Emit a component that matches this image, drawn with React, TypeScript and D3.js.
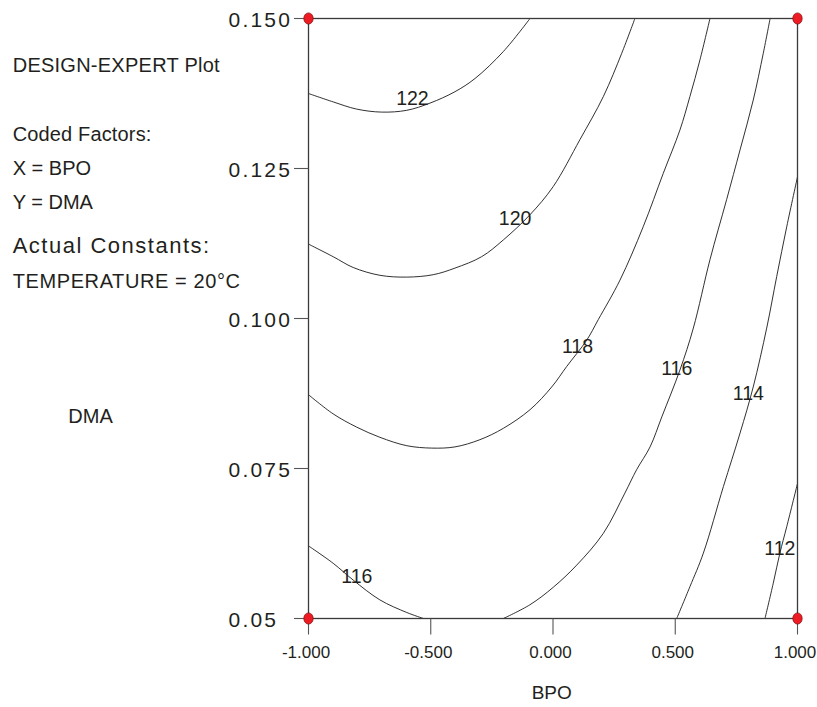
import React from "react";
import * as d3 from "d3";

// ---- data ----
const xTicks = [-1, -0.5, 0, 0.5, 1];
const xTickLabels = ["-1.000", "-0.500", "0.000", "0.500", "1.000"];
const yTicks = [0.05, 0.075, 0.1, 0.125, 0.15];
const yTickLabels = ["0.05", "0.075", "0.100", "0.125", "0.150"];

// contour lines: [BPO, DMA]
const c122: [number, number][] = [
  [-1.0, 0.1375], [-0.899, 0.1361], [-0.803, 0.1349], [-0.701, 0.1344], [-0.598, 0.1347],
  [-0.503, 0.1359], [-0.401, 0.1378], [-0.319, 0.14], [-0.203, 0.1445], [-0.094, 0.15],
];
const c120: [number, number][] = [
  [-1.0, 0.1124], [-0.899, 0.1103], [-0.817, 0.1085], [-0.708, 0.1072], [-0.598, 0.1069],
  [-0.49, 0.1073], [-0.401, 0.1084], [-0.292, 0.1103], [-0.203, 0.1131], [-0.094, 0.1173],
  [0.001, 0.122], [0.11, 0.1298], [0.206, 0.137], [0.281, 0.1442], [0.335, 0.15],
];
const c118: [number, number][] = [
  [-1.0, 0.0873], [-0.899, 0.0841], [-0.803, 0.0819], [-0.708, 0.0802], [-0.598, 0.0788],
  [-0.496, 0.0784], [-0.401, 0.0786], [-0.299, 0.0798], [-0.203, 0.0817], [-0.094, 0.0848],
  [-0.005, 0.0886], [0.056, 0.092], [0.138, 0.0964], [0.185, 0.0998], [0.274, 0.1064],
  [0.369, 0.1153], [0.451, 0.1242], [0.519, 0.1314], [0.56, 0.137], [0.601, 0.1431], [0.642, 0.15],
];
const c116a: [number, number][] = [
  [0.888, 0.15], [0.86, 0.1442], [0.819, 0.1364], [0.765, 0.1281], [0.71, 0.1198],
  [0.642, 0.1098], [0.574, 0.0984], [0.519, 0.0914], [0.445, 0.0836], [0.397, 0.0786],
  [0.342, 0.0748], [0.294, 0.0709], [0.206, 0.0642], [0.097, 0.0589], [0.001, 0.0552],
  [-0.094, 0.0523], [-0.203, 0.05],
];
const c116b: [number, number][] = [
  [-1.0, 0.0621], [-0.899, 0.0592], [-0.817, 0.0564], [-0.708, 0.0531], [-0.598, 0.051], [-0.53, 0.05],
];
const c114: [number, number][] = [
  [1.0, 0.1236], [0.956, 0.1153], [0.915, 0.107], [0.874, 0.0984], [0.819, 0.0886],
  [0.765, 0.0809], [0.697, 0.072], [0.615, 0.0609], [0.56, 0.0553], [0.506, 0.05],
];
const c112: [number, number][] = [
  [1.0, 0.0725], [0.956, 0.0653], [0.928, 0.0609], [0.901, 0.0559], [0.867, 0.05],
];
const contours = [c122, c120, c118, c116a, c116b, c114, c112];

const labelText = ["122", "120", "118", "116", "114", "112", "116"];
const labelX = [-0.575, -0.155, 0.1, 0.506, 0.799, 0.928, -0.802];
const labelY = [0.1368, 0.1168, 0.0955, 0.0918, 0.0876, 0.0617, 0.0571];

const designX = [-1, 1, -1, 1];
const designY = [0.05, 0.05, 0.15, 0.15];

const infoLines = [
  "DESIGN-EXPERT Plot",
  "Coded Factors:",
  "X = BPO",
  "Y = DMA",
  "Actual Constants:",
  "TEMPERATURE = 20°C",
];

export default function App() {
  const W = 817, H = 707;
  const left = 308.5, right = 797.5, top = 18.5, bottom = 618.5;
  const x = d3.scaleLinear().domain([-1, 1]).range([left, right]);
  const y = d3.scaleLinear().domain([0.05, 0.15]).range([bottom, top]);
  const line = d3
    .line<[number, number]>()
    .x((d) => x(d[0]))
    .y((d) => y(d[1]))
    .curve(d3.curveCatmullRom.alpha(0.5));

  const font = "'Liberation Sans', Arial, Helvetica, sans-serif";
  const txt = "#231f20";
  const infoY = [72.3, 140.7, 175, 209, 253.3, 288.3];
  const infoSize = [20, 20, 20, 20, 22, 20];
  const infoSpacing = [0.25, 0.15, 0, 0, 1.5, 0.6];

  return (
    <svg
      width={W}
      height={H}
      style={{ position: "absolute", left: 0, top: 0, background: "#fff" }}
      fontFamily={font}
    >
      <defs>
        <clipPath id="plotclip">
          <rect x={left} y={top} width={right - left} height={bottom - top} />
        </clipPath>
      </defs>
      <rect x={0} y={0} width={W} height={H} fill="#fff" />

      {/* info text */}
      {infoLines.map((t, i) => (
        <text
          key={t}
          x={12.7}
          y={infoY[i]}
          fontSize={infoSize[i]}
          letterSpacing={infoSpacing[i]}
          fill={txt}
        >
          {t}
        </text>
      ))}
      <text x={68.3} y={423.3} fontSize={20} fill={txt}>
        DMA
      </text>
      <text x={551.7} y={699} fontSize={19} textAnchor="middle" fill={txt}>
        BPO
      </text>

      {/* contours */}
      <g clipPath="url(#plotclip)">
        {contours.map((c, i) => (
          <path key={i} d={line(c) || ""} fill="none" stroke="#1a1a1a" strokeWidth={0.9} />
        ))}
      </g>
      {labelText.map((t, i) => (
        <text
          key={i}
          x={x(labelX[i])}
          y={y(labelY[i])}
          dy="0.36em"
          fontSize={19.5}
          textAnchor="middle"
          fill={txt}
        >
          {t}
        </text>
      ))}

      {/* frame */}
      <rect
        x={left}
        y={top}
        width={right - left}
        height={bottom - top}
        fill="none"
        stroke="#3a3a3a"
        strokeWidth={1.3}
      />

      {/* y axis */}
      {yTicks.map((v, i) => (
        <g key={v}>
          <line x1={left - 14.5} x2={left} y1={y(v)} y2={y(v)} stroke="#555" strokeWidth={1.1} />
          <text
            x={228.5}
            y={y(v) + 8}
            fontSize={21}
            letterSpacing={2.2}
            fill={txt}
          >
            {yTickLabels[i]}
          </text>
        </g>
      ))}

      {/* x axis */}
      {xTicks.map((v, i) => (
        <g key={v}>
          <line x1={x(v)} x2={x(v)} y1={bottom} y2={bottom + 16} stroke="#555" strokeWidth={1.1} />
          <text x={x(v) - 2.5} y={658.3} fontSize={17} textAnchor="middle" fill={txt}>
            {xTickLabels[i]}
          </text>
        </g>
      ))}

      {/* design points */}
      {designX.map((v, i) => (
        <ellipse
          key={i}
          cx={x(v)}
          cy={y(designY[i])}
          rx={4.7}
          ry={5.6}
          fill="#ed1c24"
          stroke="#7a0d0d"
          strokeWidth={0.7}
        />
      ))}
    </svg>
  );
}
